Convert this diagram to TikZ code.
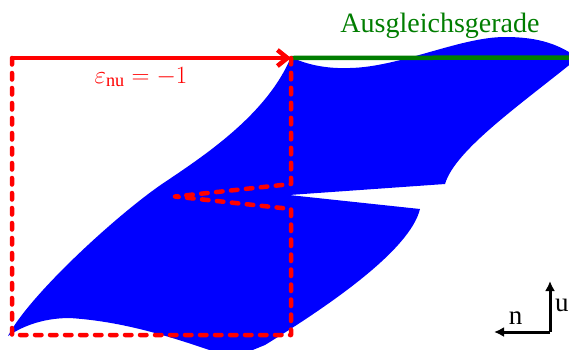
\documentclass[tikz,border=0pt]{standalone}
\usepackage{fontspec}
\setmainfont{Liberation Serif}
\usetikzlibrary{arrows.meta}
\definecolor{grn}{RGB}{0,125,0}
\definecolor{blu}{RGB}{0,0,255}
\definecolor{rd}{RGB}{255,0,0}
\tikzset{
  bluearea/.style={fill=blu},
  reddash/.style={draw=rd, line width=4.5pt, dash pattern=on 6.5pt off 8.5pt, line cap=round, line join=round},
  redarrow/.style={draw=rd, line width=4.5pt, -{Straight Barb[length=10pt,width=16pt]}},
  greenline/.style={draw=grn, line width=4.5pt},
  axisarrow/.style={draw=black, line width=3pt, -{Latex[length=10pt,width=10pt]}},
  lbl/.style={inner sep=0pt, anchor=base, font=\fontsize{27}{30}\selectfont}
}
\begin{document}
\begin{tikzpicture}[x=1pt,y=-1pt]
\useasboundingbox (0,0) rectangle (569,349);
\clip (0,0) rectangle (569,349);
% blue region
\fill[bluearea]
  (8,336) .. controls (30,294) and (120,212) .. (165,182)
          .. controls (210,152) and (268,112) .. (291,57)
          .. controls (305,64) and (325,69) .. (350,68)
          .. controls (400,67) and (460,37) .. (505,37)
          .. controls (540,37) and (560,45) .. (578,58)
          .. controls (520,105) and (455,150) .. (445,184)
          -- (289,195) -- (420,209)
          .. controls (410,250) and (330,305) .. (265,345)
          -- (233,358)
          .. controls (180,340) and (130,322) .. (70,318)
          .. controls (40,318) and (20,328) .. (8,336)
          -- cycle;
% named points
\coordinate (TL) at (12,58);
\coordinate (TR) at (291,58);
\coordinate (BL) at (12,335);
\coordinate (BR) at (291,335);
\coordinate (NL) at (291,209);
\coordinate (NT) at (175,196.5);
\coordinate (NU) at (291,184);
\coordinate (GE) at (569,57.5);
% green fit line
\draw[greenline] (TR) -- (GE);
% red dashed contour
\draw[reddash] (TL) -- (BL) -- (BR) -- (NL) -- (NT) -- (NU) -- (TR);
% red arrow
\draw[redarrow] (TL) -- (TR);
% labels
\node[lbl, text=rd, font=\fontsize{26}{28}\selectfont] (eps) at (141,83) {$\varepsilon_{\mathrm{nu}} = -1$};
\node[lbl, text=grn, font=\fontsize{28}{30}\selectfont] (fit) at (440,32) {Ausgleichsgerade};
% axes
\coordinate (K) at (550,332);
\coordinate (U) at (550,281);
\coordinate (N) at (494,332);
\draw[axisarrow] (K) -- (U);
\draw[axisarrow] (K) -- (N);
\node[lbl] (nl) at (515.5,324) {n};
\node[lbl, anchor=base west] (ul) at (555,311) {u};
\end{tikzpicture}
\end{document}
